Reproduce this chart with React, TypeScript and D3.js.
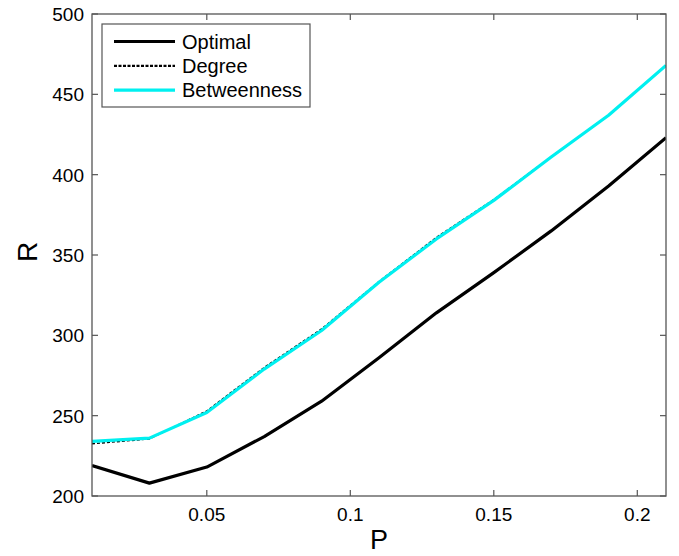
import React from "react";
import * as d3 from "d3";

const pValues = [0.01, 0.03, 0.05, 0.07, 0.09, 0.11, 0.13, 0.15, 0.17, 0.19, 0.21];
const optimal = [219, 208, 218, 237, 259, 286, 314, 339, 365, 393, 423];
const degree = [232.5, 235.5, 253, 280, 304, 333.5, 361, 384.5, 411, 437, 468];
const betweenness = [234, 236, 252, 279, 303, 333, 360, 384, 411, 437, 468];
const xTicks = [0.05, 0.1, 0.15, 0.2];
const yTicks = [200, 250, 300, 350, 400, 450, 500];
const legendLabels = ["Optimal", "Degree", "Betweenness"];

export default function App() {
  const W = 679, H = 556;
  const L = 92, R = 666, T = 14, B = 496;
  const x = d3.scaleLinear().domain([0.01, 0.21]).range([L, R]);
  const y = d3.scaleLinear().domain([200, 500]).range([B, T]);
  const line = d3
    .line<number>()
    .x((_, i) => x(pValues[i]))
    .y((d) => y(d));
  const font = "Liberation Sans, Arial, sans-serif";
  const axisColor = "#555";
  const tickLen = 6;
  const series = [
    { data: optimal, stroke: "#000", width: 3.2, dash: undefined as string | undefined },
    { data: betweenness, stroke: "#00f0f0", width: 3.2, dash: undefined },
    { data: degree, stroke: "#000", width: 1.4, dash: "3,2" },
  ];
  const legendStyles = [
    { stroke: "#000", width: 3.2, dash: undefined as string | undefined },
    { stroke: "#000", width: 2.2, dash: "3,1.5" },
    { stroke: "#00f0f0", width: 3.2, dash: undefined },
  ];
  return (
    <svg
      width={W}
      height={H}
      style={{ position: "absolute", left: 0, top: 0, background: "#fff" }}
      fontFamily={font}
    >
      <defs>
        <clipPath id="plot">
          <rect x={L} y={T} width={R - L} height={B - T} />
        </clipPath>
      </defs>
      <g clipPath="url(#plot)">
        <path d={line(series[0].data) || ""} fill="none" stroke={series[0].stroke} strokeWidth={series[0].width} strokeLinejoin="round" />
        <path d={line(series[2].data) || ""} fill="none" stroke={series[2].stroke} strokeWidth={series[2].width} strokeDasharray={series[2].dash} />
        <path d={line(series[1].data) || ""} fill="none" stroke={series[1].stroke} strokeWidth={series[1].width} strokeLinejoin="round" />
      </g>
      <rect x={L} y={T} width={R - L} height={B - T} fill="none" stroke={axisColor} strokeWidth={1.3} />
      {xTicks.map((t) => (
        <g key={"x" + t}>
          <line x1={x(t)} x2={x(t)} y1={B} y2={B - tickLen} stroke={axisColor} strokeWidth={1.2} />
          <line x1={x(t)} x2={x(t)} y1={T} y2={T + tickLen} stroke={axisColor} strokeWidth={1.2} />
          <text x={x(t)} y={B + 25} textAnchor="middle" fontSize={19} fill="#000">
            {String(t)}
          </text>
        </g>
      ))}
      {yTicks.map((t) => (
        <g key={"y" + t}>
          <line x1={L} x2={L + tickLen} y1={y(t)} y2={y(t)} stroke={axisColor} strokeWidth={1.2} />
          <line x1={R} x2={R - tickLen} y1={y(t)} y2={y(t)} stroke={axisColor} strokeWidth={1.2} />
          <text x={L - 8} y={y(t) + 7} textAnchor="end" fontSize={19} fill="#000">
            {t}
          </text>
        </g>
      ))}
      <text x={379} y={549} textAnchor="middle" fontSize={27} fill="#000">
        P
      </text>
      <text
        transform={`translate(37,252) rotate(-90)`}
        textAnchor="middle"
        fontSize={28}
        fill="#000"
      >
        R
      </text>
      <g>
        <rect x={102} y={24} width={208} height={83} fill="#fff" stroke={axisColor} strokeWidth={1.2} />
        {legendLabels.map((lab, i) => {
          const ly = 41.5 + i * 24.3;
          const s = legendStyles[i];
          return (
            <g key={lab}>
              <line x1={114} x2={175} y1={ly} y2={ly} stroke={s.stroke} strokeWidth={s.width} strokeDasharray={s.dash} />
              <text x={182} y={ly + 7} fontSize={20} fill="#000">
                {lab}
              </text>
            </g>
          );
        })}
      </g>
    </svg>
  );
}
